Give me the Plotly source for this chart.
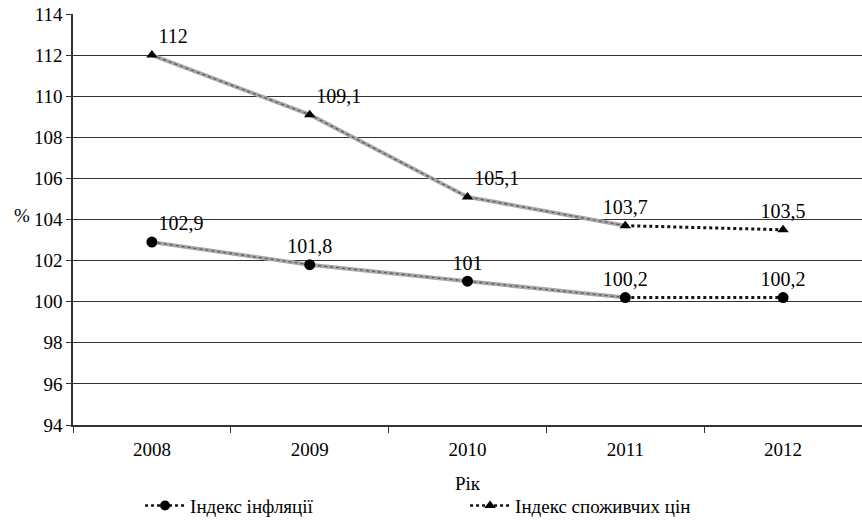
import plotly.graph_objects as go

years = ["2008", "2009", "2010", "2011", "2012"]
inflation = [102.9, 101.8, 101.0, 100.2, 100.2]
cpi = [112.0, 109.1, 105.1, 103.7, 103.5]
inflation_labels = ["102,9", "101,8", "101", "100,2", "100,2"]
cpi_labels = ["112", "109,1", "105,1", "103,7", "103,5"]
name_infl = "Індекс інфляції"
name_cpi = "Індекс споживчих цін"

FONT = "Times New Roman"

fig = go.Figure()

def add_series(y, labels, symbol, name, positions):
    fig.add_trace(go.Scatter(x=years[:4], y=y[:4], mode="lines",
                             line=dict(color="#a8a8a8", width=4), showlegend=False, hoverinfo="skip"))
    fig.add_trace(go.Scatter(x=years[:4], y=y[:4], mode="lines",
                             line=dict(color="#555555", width=1.2, dash="dot"), showlegend=False, hoverinfo="skip"))
    fig.add_trace(go.Scatter(x=years[3:], y=y[3:], mode="lines",
                             line=dict(color="#111111", width=3, dash="dot"), showlegend=False, hoverinfo="skip"))
    fig.add_trace(go.Scatter(x=years, y=y, mode="markers",
                             marker=dict(symbol=symbol, size=11 if symbol == "circle" else 10, color="#000"),
                             showlegend=False, hoverinfo="skip"))
    fig.add_trace(go.Scatter(x=years, y=y, mode="markers+text", text=labels,
                             textposition=positions,
                             textfont=dict(family=FONT, size=20, color="#000"),
                             marker=dict(size=9, color="rgba(0,0,0,0)"),
                             showlegend=False, hoverinfo="skip"))
    fig.add_trace(go.Scatter(x=[None], y=[None], mode="lines+markers", name=name,
                             line=dict(color="#111111", width=2.5, dash="dot"),
                             marker=dict(symbol=symbol, size=10, color="#000")))

add_series(inflation, inflation_labels, "circle", name_infl,
           ["top right", "top center", "top center", "top center", "top center"])
add_series(cpi, cpi_labels, "triangle-up", name_cpi,
           ["top right", "top right", "top right", "top center", "top center"])

fig.update_layout(
    width=862, height=525,
    margin=dict(l=73, r=0, t=14, b=100, autoexpand=False),
    plot_bgcolor="white", paper_bgcolor="white",
    font=dict(family=FONT, size=19, color="#000"),
    showlegend=True,
    legend=dict(orientation="h", x=0.085, xanchor="left", y=-0.15, yanchor="top",
                font=dict(family=FONT, size=19), itemwidth=40, tracegroupgap=0,
                entrywidth=270, entrywidthmode="pixels",
                bgcolor="rgba(0,0,0,0)"),
    xaxis=dict(type="category", tickson="boundaries", ticks="outside", ticklen=6,
               tickcolor="#333", showgrid=False, showline=True, linecolor="#333", linewidth=1.5,
               title=dict(text="Рік", font=dict(family=FONT, size=19), standoff=18),
               tickfont=dict(family=FONT, size=19), range=[-0.5, 4.5], automargin=False,
               ticklabelstandoff=6),
    yaxis=dict(range=[94, 114], dtick=2, tick0=94, ticks="outside", ticklen=5, tickcolor="#333",
               showgrid=True, gridcolor="#333", gridwidth=1, showline=True, linecolor="#333",
               linewidth=1.5, zeroline=False, tickfont=dict(family=FONT, size=19), automargin=False,
               ticklabeloverflow="allow"),
    annotations=[dict(text="%", xref="paper", yref="paper", x=-0.065, y=0.51,
                      xanchor="center", yanchor="middle", showarrow=False,
                      font=dict(family=FONT, size=19))],
)

fig.write_html("out.html", post_script="document.body.style.margin='0';",
               config={"displayModeBar": False})
